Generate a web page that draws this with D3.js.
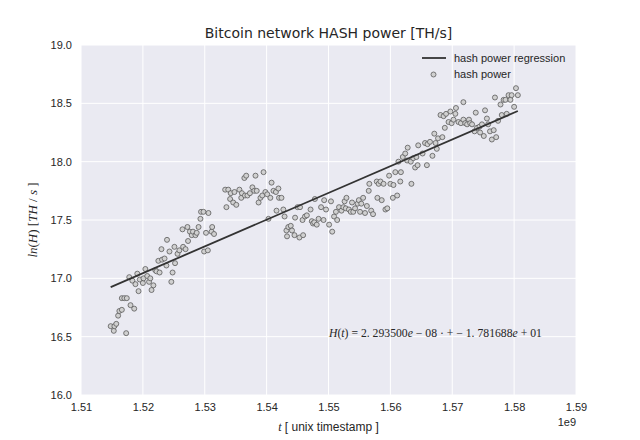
<!DOCTYPE html>
<html>
<head>
<meta charset="utf-8">
<title>Bitcoin network HASH power</title>
<script src="https://cdn.jsdelivr.net/npm/d3@7"></script>
<style>
  body { margin: 0; background: #fff; }
  svg text { fill: #262626; }
</style>
</head>
<body>
<div id="chart"></div>
<script>
// timestamps in units of 1e9 s, ln of hash power in TH/s
var tE9 = [
  1.5148, 1.5153, 1.5154, 1.5157, 1.5160, 1.5162, 1.5166, 1.5166, 1.5170, 1.5174,
  1.5173, 1.5178, 1.5180, 1.5183, 1.5186, 1.5188, 1.5191, 1.5193, 1.5195, 1.5200,
  1.5201, 1.5204, 1.5207, 1.5210, 1.5212, 1.5214, 1.5217, 1.5220, 1.5222, 1.5225,
  1.5227, 1.5230, 1.5231, 1.5235, 1.5238, 1.5239, 1.5243, 1.5246, 1.5248, 1.5251,
  1.5252, 1.5256, 1.5259, 1.5264, 1.5265, 1.5269, 1.5272, 1.5273, 1.5276, 1.5279,
  1.5281, 1.5285, 1.5287, 1.5290, 1.5293, 1.5294, 1.5298, 1.5299, 1.5302, 1.5305,
  1.5306, 1.5311, 1.5312, 1.5315, 1.5333, 1.5335, 1.5338, 1.5341, 1.5342, 1.5346,
  1.5348, 1.5351, 1.5356, 1.5359, 1.5360, 1.5364, 1.5365, 1.5367, 1.5369, 1.5373,
  1.5377, 1.5380, 1.5382, 1.5384, 1.5387, 1.5390, 1.5393, 1.5395, 1.5398, 1.5401,
  1.5403, 1.5406, 1.5408, 1.5411, 1.5415, 1.5416, 1.5419, 1.5420, 1.5424, 1.5427,
  1.5429, 1.5432, 1.5433, 1.5435, 1.5439, 1.5441, 1.5445, 1.5446, 1.5450, 1.5453,
  1.5454, 1.5458, 1.5459, 1.5462, 1.5465, 1.5471, 1.5473, 1.5475, 1.5477, 1.5478,
  1.5481, 1.5484, 1.5488, 1.5492, 1.5493, 1.5496, 1.5501, 1.5504, 1.5506, 1.5509,
  1.5512, 1.5514, 1.5517, 1.5521, 1.5524, 1.5526, 1.5528, 1.5529, 1.5533, 1.5536,
  1.5538, 1.5540, 1.5543, 1.5547, 1.5549, 1.5551, 1.5553, 1.5556, 1.5559, 1.5562,
  1.5565, 1.5566, 1.5569, 1.5572, 1.5578, 1.5579, 1.5581, 1.5584, 1.5586, 1.5589,
  1.5592, 1.5595, 1.5598, 1.5600, 1.5604, 1.5605, 1.5608, 1.5611, 1.5613, 1.5616,
  1.5617, 1.5620, 1.5624, 1.5627, 1.5628, 1.5633, 1.5634, 1.5637, 1.5640, 1.5642,
  1.5644, 1.5645, 1.5652, 1.5656, 1.5659, 1.5660, 1.5664, 1.5668, 1.5671, 1.5673,
  1.5675, 1.5677, 1.5681, 1.5684, 1.5686, 1.5688, 1.5690, 1.5694, 1.5697, 1.5699,
  1.5702, 1.5705, 1.5706, 1.5710, 1.5714, 1.5718, 1.5718, 1.5721, 1.5724, 1.5727,
  1.5729, 1.5732, 1.5736, 1.5738, 1.5740, 1.5744, 1.5745, 1.5748, 1.5751, 1.5753,
  1.5756, 1.5758, 1.5761, 1.5764, 1.5767, 1.5769, 1.5771, 1.5774, 1.5778, 1.5780,
  1.5783, 1.5786, 1.5788, 1.5791, 1.5794, 1.5796, 1.5800, 1.5803, 1.5806
];
var lnHash = [
  16.59, 16.55, 16.59, 16.61, 16.68, 16.72, 16.73, 16.83, 16.83, 16.83,
  16.53, 17.01, 16.77, 16.98, 16.74, 16.95, 17.04, 16.89, 16.99, 16.96,
  17.00, 17.08, 17.02, 16.97, 17.00, 16.90, 16.94, 17.07, 17.06, 17.15,
  17.05, 17.25, 17.16, 17.17, 17.11, 17.33, 17.23, 16.97, 17.05, 17.27,
  17.13, 17.21, 17.24, 17.42, 17.27, 17.25, 17.44, 17.32, 17.40, 17.37,
  17.40, 17.37, 17.39, 17.44, 17.51, 17.57, 17.57, 17.23, 17.39, 17.24,
  17.56, 17.40, 17.44, 17.38, 17.76, 17.61, 17.76, 17.68, 17.73, 17.65,
  17.74, 17.63, 17.76, 17.69, 17.73, 17.86, 17.71, 17.88, 17.71, 17.73,
  17.78, 17.75, 17.88, 17.75, 17.65, 17.69, 17.71, 17.91, 17.74, 17.72,
  17.51, 17.69, 17.82, 17.75, 17.74, 17.58, 17.77, 17.69, 17.69, 17.59,
  17.53, 17.41, 17.36, 17.44, 17.45, 17.41, 17.37, 17.52, 17.61, 17.35,
  17.61, 17.50, 17.37, 17.53, 17.54, 17.59, 17.49, 17.47, 17.48, 17.68,
  17.46, 17.51, 17.61, 17.50, 17.67, 17.59, 17.46, 17.66, 17.40, 17.53,
  17.57, 17.50, 17.61, 17.58, 17.61, 17.66, 17.60, 17.69, 17.59, 17.57,
  17.65, 17.57, 17.60, 17.64, 17.67, 17.57, 17.64, 17.69, 17.56, 17.62,
  17.75, 17.81, 17.58, 17.55, 17.83, 17.69, 17.81, 17.83, 17.67, 17.81,
  17.59, 17.60, 17.88, 17.81, 17.69, 17.80, 17.91, 17.71, 18.00, 17.83,
  17.91, 18.04, 18.07, 18.01, 18.12, 18.00, 17.81, 18.03, 17.95, 18.04,
  17.97, 18.14, 18.07, 18.16, 17.97, 18.15, 18.17, 18.05, 18.24, 18.16,
  18.11, 18.20, 18.40, 18.21, 18.39, 18.29, 18.41, 18.34, 18.43, 18.33,
  18.36, 18.41, 18.46, 18.34, 18.33, 18.51, 18.36, 18.33, 18.32, 18.36,
  18.33, 18.32, 18.26, 18.42, 18.29, 18.30, 18.25, 18.32, 18.22, 18.44,
  18.37, 18.32, 18.26, 18.19, 18.27, 18.55, 18.21, 18.35, 18.49, 18.40,
  18.53, 18.53, 18.41, 18.57, 18.53, 18.57, 18.47, 18.63, 18.57
];
var xTicks = [1.51, 1.52, 1.53, 1.54, 1.55, 1.56, 1.57, 1.58, 1.59];
var yTicks = [16.0, 16.5, 17.0, 17.5, 18.0, 18.5, 19.0];
// fitted line H(t) = slope * t + intercept (t in seconds)
var slope = 2.2935e-08;
var intercept = -17.81688;

var width = 640, height = 440;
var margin = {top: 45, right: 64, bottom: 45, left: 81};

var svg = d3.select("#chart").append("svg")
    .attr("width", width)
    .attr("height", height);

var x = d3.scaleLinear().domain([1.51, 1.59]).range([margin.left, width - margin.right]);
var y = d3.scaleLinear().domain([16, 19]).range([height - margin.bottom, margin.top]);

// plot background
svg.append("rect")
    .attr("x", x(1.51)).attr("y", y(19))
    .attr("width", x(1.59) - x(1.51))
    .attr("height", y(16) - y(19))
    .attr("fill", "#eaeaf2");

// white grid
svg.append("g").selectAll("line").data(xTicks).join("line")
    .attr("x1", d => x(d)).attr("x2", d => x(d))
    .attr("y1", y(16)).attr("y2", y(19))
    .attr("stroke", "#fff").attr("stroke-width", 1);
svg.append("g").selectAll("line").data(yTicks).join("line")
    .attr("x1", x(1.51)).attr("x2", x(1.59))
    .attr("y1", d => y(d)).attr("y2", d => y(d))
    .attr("stroke", "#fff").attr("stroke-width", 1);

// axes (labels only, seaborn style)
var xAxis = svg.append("g")
    .attr("transform", "translate(0," + y(16) + ")")
    .call(d3.axisBottom(x).tickValues(xTicks).tickFormat(d3.format(".2f")).tickSize(0).tickPadding(8));
var yAxis = svg.append("g")
    .attr("transform", "translate(" + x(1.51) + ",0)")
    .call(d3.axisLeft(y).tickValues(yTicks).tickFormat(d3.format(".1f")).tickSize(0).tickPadding(9));
[xAxis, yAxis].forEach(function (g) {
    g.select(".domain").remove();
    g.selectAll("text")
        .attr("font-family", "Liberation Sans, Arial, sans-serif")
        .attr("font-size", 11)
        .attr("fill", "#262626");
});

svg.append("text")
    .attr("x", x(1.59)).attr("y", 426)
    .attr("text-anchor", "end")
    .attr("font-family", "Liberation Sans, Arial, sans-serif")
    .attr("font-size", 11)
    .text("1e9");

// scatter
var points = tE9.map((t, i) => ({t: t, h: lnHash[i]}));
svg.append("g").selectAll("circle").data(points).join("circle")
    .attr("cx", d => x(d.t))
    .attr("cy", d => y(d.h))
    .attr("r", 2.5)
    .attr("fill", "#d0d0d0")
    .attr("stroke", "#5a5a5a")
    .attr("stroke-width", 0.8);

// regression line
var t0 = d3.min(tE9), t1 = d3.max(tE9);
var fit = [t0, t1].map(t => ({t: t, h: slope * t * 1e9 + intercept}));
svg.append("path")
    .datum(fit)
    .attr("d", d3.line().x(d => x(d.t)).y(d => y(d.h)))
    .attr("fill", "none")
    .attr("stroke", "#333")
    .attr("stroke-width", 1.8);

// title
svg.append("text")
    .attr("x", (x(1.51) + x(1.59)) / 2).attr("y", 38)
    .attr("text-anchor", "middle")
    .attr("font-family", "DejaVu Sans, sans-serif")
    .attr("font-size", 14)
    .text("Bitcoin network HASH power [TH/s]");

// x label
var xl = svg.append("text")
    .attr("x", (x(1.51) + x(1.59)) / 2).attr("y", 431)
    .attr("text-anchor", "middle")
    .attr("font-family", "Liberation Sans, Arial, sans-serif")
    .attr("font-size", 12);
xl.append("tspan").attr("font-family", "Liberation Serif, serif").attr("font-style", "italic").text("t");
xl.append("tspan").text(" [ unix timestamp ]");

// y label
var yl = svg.append("text")
    .attr("transform", "translate(37," + ((y(16) + y(19)) / 2) + ") rotate(-90)")
    .attr("text-anchor", "middle")
    .attr("font-family", "Liberation Serif, serif")
    .attr("font-size", 13);
yl.append("tspan").attr("font-style", "italic").text("ln");
yl.append("tspan").text("(");
yl.append("tspan").attr("font-style", "italic").text("H");
yl.append("tspan").text(")  [");
yl.append("tspan").attr("font-style", "italic").text("TH");
yl.append("tspan").text(" / ");
yl.append("tspan").attr("font-style", "italic").text("s");
yl.append("tspan").text(" ]");

// fit equation
var eq = svg.append("text")
    .attr("x", 329).attr("y", 337)
    .attr("font-family", "Liberation Serif, serif")
    .attr("font-size", 11.7);
eq.append("tspan").attr("font-style", "italic").text("H");
eq.append("tspan").text("(");
eq.append("tspan").attr("font-style", "italic").text("t");
eq.append("tspan").text(") = 2. 293500");
eq.append("tspan").attr("font-style", "italic").text("e");
eq.append("tspan").text(" \u2212 08 \u00b7 + \u2212 1. 781688");
eq.append("tspan").attr("font-style", "italic").text("e");
eq.append("tspan").text(" + 01");

// legend
var lg = svg.append("g").attr("font-family", "Liberation Sans, Arial, sans-serif").attr("font-size", 11);
lg.append("line")
    .attr("x1", 422).attr("x2", 446).attr("y1", 58).attr("y2", 58)
    .attr("stroke", "#333").attr("stroke-width", 1.8);
lg.append("text").attr("x", 454).attr("y", 62).text("hash power regression");
lg.append("circle")
    .attr("cx", 433.5).attr("cy", 74.5).attr("r", 2.5)
    .attr("fill", "#d0d0d0").attr("stroke", "#5a5a5a").attr("stroke-width", 0.8);
lg.append("text").attr("x", 454).attr("y", 78).text("hash power");
</script>
</body>
</html>
